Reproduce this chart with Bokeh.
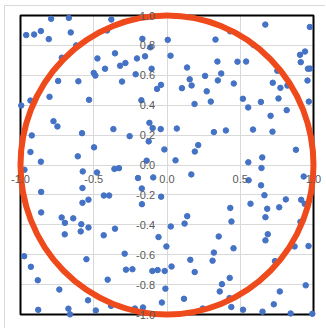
from bokeh.plotting import figure
from bokeh.models import FixedTicker, BoxAnnotation, Label
from bokeh.embed import file_html
from bokeh.resources import INLINE

# Random points
pts_x = [
    -0.791, -0.670, -0.380, -0.961, -0.907, -0.861, -0.657, -0.409, -0.807, -0.168,
    -0.620, -0.114, -0.355, -0.718, -0.475, -0.205, -0.150, -0.284, -0.320, -0.423,
    -0.105, -0.500, -0.489, -0.214, -0.743, -0.605, -0.307, -0.041, -0.068, -0.802,
    -0.532, -0.175, -0.995, -0.932, -0.775, -0.748, -0.120, -0.366, -0.098, -0.043,
    -0.580, -0.923, -0.255, -0.125, -0.498, -0.018, -0.932, -0.609, -0.861, -0.139,
    0.005, 0.024, 0.331, 0.431, 0.671, 0.975, 0.589, 0.908, 0.942, 0.913,
    0.962, 0.977, 0.959, 0.968, 0.137, 0.344, 0.481, 0.540, 0.753, 0.260,
    0.370, 0.155, 0.168, 0.347, 0.456, 0.722, 0.774, 0.822, 0.102, 0.271,
    0.299, 0.188, 0.518, 0.554, 0.641, 0.761, 0.817, 0.707, 0.067, 0.320,
    0.402, 0.587, 0.720, 0.213, 0.190, 0.880, 0.058, 0.555, 0.650,
    -0.973, -0.575, -0.478, -0.359, -0.328, -0.198, -0.094, -0.859, -0.577, -0.577,
    -0.536, -0.431, -0.395, -0.172, -0.171, -0.040, -0.859, -0.719, -0.640, -0.697,
    -0.585, -0.698, -0.589, -0.536, -0.355, -0.432, -0.058, -0.004, -0.975, -0.929,
    -0.550, -0.289, -0.280, -0.236, -0.100, -0.064, -0.016, -0.882, -0.405, -0.735,
    -0.011, -0.539, -0.035, -0.879, -0.673, -0.486, -0.662, -0.382, -0.219, -0.164,
    0.645, 0.166, 0.557, 0.642, 0.933, 0.665, 0.811, 0.916, 0.940, 0.570,
    0.432, 0.684, 0.766, 0.138, 0.672, 0.440, 0.120, 0.026, 0.911, 0.353,
    0.688, 0.672, 0.966, 0.454, 0.871, 0.320, 0.311, 0.159, 0.737, 0.031,
    0.189, 0.428, 0.375, 0.947, 0.770, 0.360, 0.116, 0.427, 0.439, 0.519,
    0.652, 0.729, 0.844, 0.992, 0.244,
]
pts_y = [
    0.978, 0.984, 0.973, 0.869, 0.873, 0.896, 0.887, 0.900, 0.842, 0.844,
    0.800, 0.787, 0.747, 0.718, 0.713, 0.713, 0.727, 0.682, 0.664, 0.644,
    0.644, 0.616, 0.598, 0.607, 0.562, 0.560, 0.558, 0.536, 0.509, 0.456,
    0.436, 0.433, 0.398, 0.431, 0.293, 0.258, 0.282, 0.240, 0.247, 0.240,
    0.213, 0.198, 0.193, 0.158, 0.118, 0.104, 0.087, 0.058, 0.022, 0.029,
    0.837, 0.731, 0.839, 0.894, 0.939, 0.923, 0.804, 0.737, 0.759, 0.688,
    0.644, 0.645, 0.565, 0.424, 0.652, 0.692, 0.691, 0.692, 0.630, 0.596,
    0.612, 0.573, 0.532, 0.566, 0.545, 0.550, 0.516, 0.531, 0.514, 0.493,
    0.424, 0.408, 0.443, 0.385, 0.422, 0.445, 0.367, 0.329, 0.244, 0.220,
    0.231, 0.237, 0.223, 0.133, 0.090, 0.102, 0.031, 0.018, 0.051,
    -0.032, -0.043, -0.050, -0.026, -0.021, -0.087, -0.083, -0.180, -0.154, -0.253,
    -0.232, -0.204, -0.204, -0.157, -0.262, -0.212, -0.317, -0.351, -0.357, -0.387,
    -0.396, -0.464, -0.444, -0.418, -0.426, -0.470, -0.482, -0.545, -0.610, -0.681,
    -0.630, -0.593, -0.700, -0.697, -0.709, -0.703, -0.709, -0.771, -0.767, -0.833,
    -0.827, -0.905, -0.920, -0.969, -0.961, -0.973, -0.999, -0.942, -0.960, -0.953,
    -0.020, -0.063, -0.102, -0.136, -0.077, -0.202, -0.230, -0.233, -0.260, -0.259,
    -0.287, -0.293, -0.283, -0.342, -0.349, -0.378, -0.392, -0.411, -0.380, -0.478,
    -0.463, -0.504, -0.542, -0.557, -0.545, -0.586, -0.640, -0.634, -0.643, -0.679,
    -0.716, -0.755, -0.797, -0.805, -0.846, -0.846, -0.895, -0.890, -0.950, -0.968,
    -0.981, -0.932, -0.993, -0.995, -0.960,
]

# Unit circle (centre and diameter)
circle_cx = [0.0]
circle_cy = [0.0]
circle_d = [2.0]

x_ticks = [-1.0, -0.5, 0.0, 0.5, 1.0]
x_labels = ["-1.0", "-0.5", "0.0", "0.5", "1.0"]
y_ticks = [-1.0, -0.8, -0.6, -0.4, -0.2, 0.0, 0.2, 0.4, 0.6, 0.8, 1.0]
y_labels = ["-1.0", "-0.8", "-0.6", "-0.4", "-0.2", "0.0", "0.2", "0.4", "0.6", "0.8", "1.0"]

# axis extent of the plot area (-1..1); the frame is a bit larger so that
# the tick labels at the edges are not clipped
LO, HI = -1.0, 1.0
p = figure(width=321, height=323,
           x_range=(-1.1024, 1.0887), y_range=(-1.1003, 1.0602),
           output_backend="svg", toolbar_location=None,
           min_border_left=0, min_border_right=0, min_border_top=0, min_border_bottom=0)
p.styles = {"margin-left": "4px", "margin-top": "5px",
            "border-left": "1px solid #D9D9D9", "border-top": "1px solid #D9D9D9"}
p.xaxis.visible = False
p.yaxis.visible = False
p.xgrid.ticker = FixedTicker(ticks=x_ticks)
p.ygrid.ticker = FixedTicker(ticks=y_ticks)
p.xgrid.grid_line_color = "#D9D9D9"
p.ygrid.grid_line_color = "#D9D9D9"
p.outline_line_color = None
p.background_fill_color = "white"
p.border_fill_color = "white"

# white masks outside the plot area (hide grid lines there)
for kw in (dict(right=LO), dict(left=HI), dict(top=LO), dict(bottom=HI)):
    p.add_layout(BoxAnnotation(fill_color="white", fill_alpha=1, line_color=None,
                               level="underlay", **kw))
# plot-area frame
p.add_layout(BoxAnnotation(left=LO, right=HI, bottom=LO, top=HI,
                           fill_alpha=0, line_color="black", line_width=2,
                           line_alpha=1, level="underlay"))

p.scatter(pts_x, pts_y, size=5.5, fill_color="#4472C4", line_color="#4472C4")

p.ellipse(x=circle_cx, y=circle_cy, width=circle_d, height=circle_d,
          fill_color=None, line_color="#EE4A1C", line_width=6)

for v, t in zip(x_ticks, x_labels):
    p.add_layout(Label(x=v, y=0.0, text=t, text_align="center",
                       text_baseline="middle", y_offset=-14,
                       text_font="Liberation Sans", text_font_size="11px",
                       text_color="#595959"))
for v, t in zip(y_ticks, y_labels):
    p.add_layout(Label(x=0.0, y=v, text=t, text_align="right",
                       text_baseline="middle", x_offset=-12,
                       text_font="Liberation Sans", text_font_size="11px",
                       text_color="#595959"))

open("out.html", "w").write(file_html(p, INLINE))
